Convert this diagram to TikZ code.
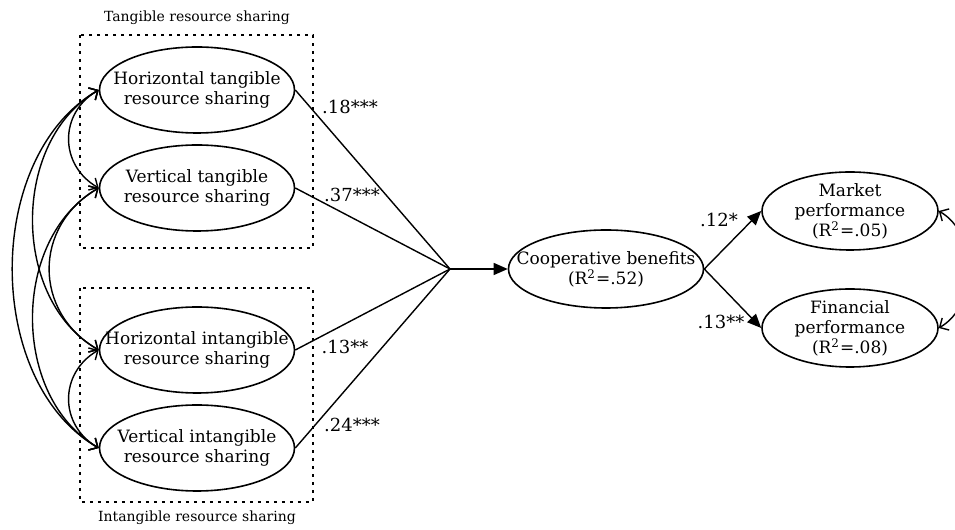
\documentclass[tikz,border=0pt]{standalone}
\usepackage{fontspec}
\setmainfont{DejaVu Serif}
\usetikzlibrary{arrows.meta,shapes.geometric}

\tikzset{
  latent/.style={ellipse, draw, line width=0.8pt, minimum width=97.5pt, minimum height=43pt, inner sep=0pt},
  outcome/.style={latent, minimum width=88pt, minimum height=39pt},
  group/.style={draw, line width=0.8pt, dash pattern=on 1.6pt off 2.4pt},
  loading/.style={line width=0.7pt},
  effect/.style={line width=0.7pt, -{Triangle[length=7pt,width=6pt]}},
  covar/.style={line width=0.7pt, {Straight Barb[length=3.5pt,width=7pt]}-{Straight Barb[length=3.5pt,width=7pt]}},
  coef/.style={font=\fontsize{9}{10}\selectfont},
  grouplabel/.style={font=\fontsize{7}{8}\selectfont}
}

\begin{document}
\begin{tikzpicture}[x=0.5pt,y=0.5pt,font=\fontsize{8.5}{10}\selectfont]
\useasboundingbox (0,0) rectangle (955,530);

% groups of resource sharing
\draw[group] (80,495) rectangle (313,282);
\draw[group] (80,242) rectangle (313,28);
\node[grouplabel] (tglabel) at (197,512) {Tangible resource sharing};
\node[grouplabel] (itglabel) at (197,12) {Intangible resource sharing};

% exogenous constructs
\node[latent, label={[align=center]center:Horizontal tangible\\resource sharing}] (ht) at (197,440) {};
\node[latent, label={[align=center]center:Vertical tangible\\resource sharing}] (vt) at (197,342) {};
\node[latent, label={[align=center]center:Horizontal intangible\\resource sharing}] (hi) at (197,180) {};
\node[latent, label={[align=center]center:Vertical intangible\\resource sharing}] (vi) at (197,82) {};

% endogenous constructs
\node[latent, minimum height=39pt, label={[align=center]center:Cooperative benefits\\(R\textsuperscript{2}=.52)}] (cb) at (606,261) {};
\node[outcome, label={[align=center]center:Market\\performance\\(R\textsuperscript{2}=.05)}] (mp) at (850,319) {};
\node[outcome, label={[align=center]center:Financial\\performance\\(R\textsuperscript{2}=.08)}] (fp) at (850,202) {};

% paths to cooperative benefits
\coordinate (join) at (450,261);
\draw[loading] (ht.east) -- (join);
\draw[loading] (vt.east) -- (join);
\draw[loading] (hi.east) -- (join);
\draw[loading] (vi.east) -- (join);
\draw[effect] (join) -- (cb.west);
\draw[effect] (cb.east) -- (mp.west);
\draw[effect] (cb.east) -- (fp.west);

% coefficients
\node[coef] (c1) at (350,423) {.18***};
\node[coef] (c2) at (352,335) {.37***};
\node[coef] (c3) at (345,183) {.13**};
\node[coef] (c4) at (352,105) {.24***};
\node[coef] (c5) at (719,310) {.12*};
\node[coef] (c6) at (721,208) {.13**};

% covariances
\draw[covar] (ht.west) to[out=210,in=150,looseness=1.2] (vt.west);
\draw[covar] (vt.west) to[out=210,in=150,looseness=1.2] (hi.west);
\draw[covar] (hi.west) to[out=210,in=150,looseness=1.2] (vi.west);
\draw[covar] (ht.west) to[out=210,in=150,looseness=1.0] (hi.west);
\draw[covar] (vt.west) to[out=210,in=150,looseness=1.0] (vi.west);
\draw[covar] (ht.west) to[out=210,in=150,looseness=0.95] (vi.west);
\draw[covar] (mp.east) to[out=-30,in=30] (fp.east);
\end{tikzpicture}
\end{document}
